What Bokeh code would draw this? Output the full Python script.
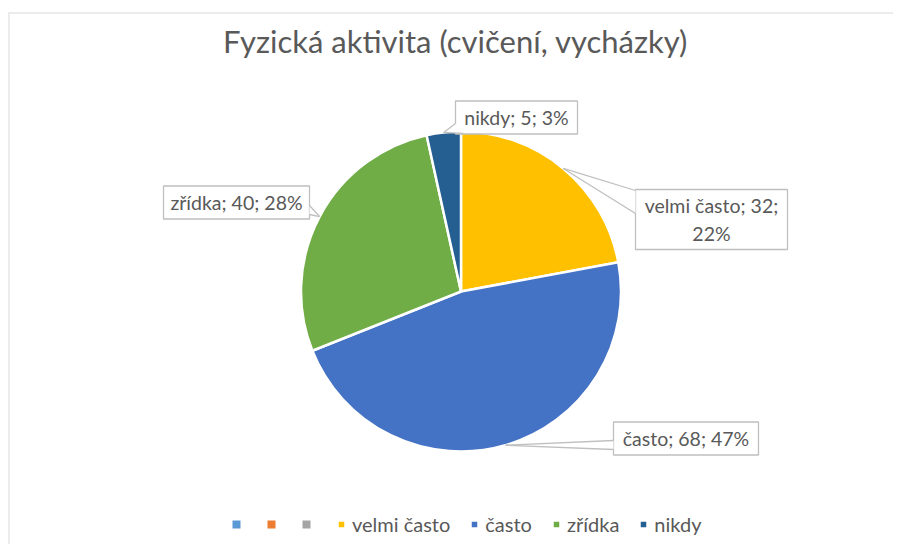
import math
from bokeh.plotting import figure
from bokeh.models import (ColumnDataSource, Label, Legend, LegendItem, Range1d, Span)
from bokeh.embed import file_html
from bokeh.resources import INLINE

# ---------------- data ----------------
title_text = "Fyzická aktivita (cvičení, vycházky)"
categories = ["", "", "", "velmi často", "často", "zřídka", "nikdy"]
values = [0, 0, 0, 32, 68, 40, 5]
colors = ["#5B9BD5", "#ED7D31", "#A5A5A5", "#FFC000", "#4472C4", "#70AD47", "#255E91"]

# ---------------- layout / style ----------------
W, H = 893, 544
LEFT, TOP = 8, 12
FW, FH = W - LEFT, H - TOP
FONT = "Lato"
TXT = "#595959"
BORDER = "#BFBFBF"
CX, CY, R = 452.5, 253, 160
# callout boxes (center x, center y, width, height) and pointer base points, in data units
callout_style = {
    "velmi často": dict(box=(703, 325, 152, 60), base=((627, 354), (627, 331)), wrap=True),
    "často": dict(box=(677.5, 106, 145, 33), base=((605, 104), (605, 95))),
    "zřídka": dict(box=(228, 342, 146, 33), base=((301, 339), (301, 330))),
    "nikdy": dict(box=(508, 427, 122, 33), base=((447, 421), (455, 411))),
}

p = figure(width=W, height=H, output_backend="svg", toolbar_location=None,
           x_range=Range1d(0, FW), y_range=Range1d(0, FH),
           min_border_left=LEFT, min_border_right=0,
           min_border_top=TOP, min_border_bottom=0)
p.axis.visible = False
p.grid.visible = False
p.outline_line_color = None
p.background_fill_color = "white"
p.add_layout(Span(location=0, dimension="height", line_color="#D9D9D9", line_width=2))
p.add_layout(Span(location=FH, dimension="width", line_color="#D9D9D9", line_width=2))

total = sum(values)
start = math.pi / 2
items = []
for cat, val, col in zip(categories, values, colors):
    sweep = 2 * math.pi * val / total
    end = start - sweep
    src = ColumnDataSource(dict(x=[CX], y=[CY], s=[end], e=[start]))
    r = p.wedge(x="x", y="y", radius=R if val > 0 else 0, start_angle="s", end_angle="e",
                source=src, fill_color=col,
                line_color="white" if val > 0 else None, line_width=2.5)
    items.append(LegendItem(label=cat if cat else " ", renderers=[r]))
    if val > 0:
        mid = (start + end) / 2
        tip = (CX + R * math.cos(mid), CY + R * math.sin(mid))
        st = callout_style[cat]
        bx, by, bw, bh = st["box"]
        pct = round(100 * val / total)
        text = f"{cat}; {val};\n{pct}%" if st.get("wrap") else f"{cat}; {val}; {pct}%"
        (b1x, b1y), (b2x, b2y) = st["base"]
        p.rect(x=[bx], y=[by], width=bw, height=bh, fill_color="white",
               line_color=BORDER, line_width=1.3)
        p.patch(x=[b1x, tip[0], b2x], y=[b1y, tip[1], b2y], fill_color="white",
                line_color=None)
        p.multi_line(xs=[[b1x, tip[0]], [b2x, tip[0]]], ys=[[b1y, tip[1]], [b2y, tip[1]]],
                     line_color=BORDER, line_width=1.3)
        p.add_layout(Label(x=bx, y=by, text=text, text_align="center",
                           text_baseline="middle", text_font=FONT,
                           text_font_size="19.5px", text_color=TXT, text_line_height=1.25))
    start = end

legend = Legend(items=items, orientation="horizontal", location=(223, 8),
                glyph_width=10, glyph_height=10, label_standoff=6, spacing=19,
                label_width=0, padding=0, margin=0,
                border_line_alpha=0, background_fill_alpha=0,
                label_text_font=FONT, label_text_font_size="20px",
                label_text_color=TXT, label_height=20)
p.add_layout(legend)

p.add_layout(Label(x=447, y=504, text=title_text, text_align="center",
                   text_baseline="middle", text_font=FONT, text_font_size="31px",
                   text_color=TXT))

open("out.html", "w").write(file_html(p, INLINE))
